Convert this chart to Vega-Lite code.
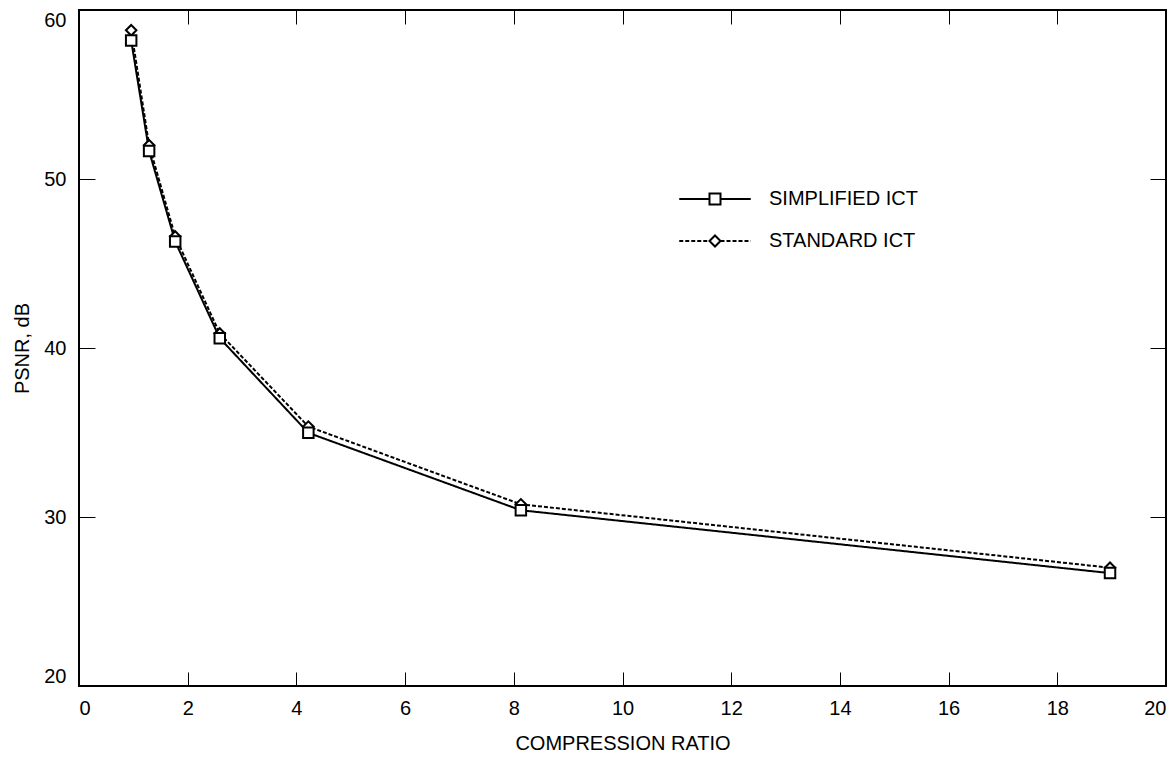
{
  "$schema": "https://vega.github.io/schema/vega-lite/v6.json",
  "width": 1087,
  "height": 676,
  "autosize": {"type": "none"},
  "padding": {"left": 79, "top": 10, "right": 9, "bottom": 72},
  "background": "white",
  "data": {
    "values": [
      {"series": "STANDARD ICT", "ratio": 0.96, "psnr": 58.8},
      {"series": "STANDARD ICT", "ratio": 1.29, "psnr": 52.0},
      {"series": "STANDARD ICT", "ratio": 1.77, "psnr": 46.6},
      {"series": "STANDARD ICT", "ratio": 2.59, "psnr": 40.86},
      {"series": "STANDARD ICT", "ratio": 4.22, "psnr": 35.35},
      {"series": "STANDARD ICT", "ratio": 8.13, "psnr": 30.75},
      {"series": "STANDARD ICT", "ratio": 18.97, "psnr": 27.0},
      {"series": "SIMPLIFIED ICT", "ratio": 0.96, "psnr": 58.2},
      {"series": "SIMPLIFIED ICT", "ratio": 1.29, "psnr": 51.65},
      {"series": "SIMPLIFIED ICT", "ratio": 1.77, "psnr": 46.3},
      {"series": "SIMPLIFIED ICT", "ratio": 2.59, "psnr": 40.58},
      {"series": "SIMPLIFIED ICT", "ratio": 4.22, "psnr": 34.98},
      {"series": "SIMPLIFIED ICT", "ratio": 8.13, "psnr": 30.4},
      {"series": "SIMPLIFIED ICT", "ratio": 18.97, "psnr": 26.68}
    ]
  },
  "layer": [
    {
      "mark": {"type": "line", "color": "black", "strokeWidth": 2},
      "encoding": {
        "x": {
          "field": "ratio", "type": "quantitative",
          "scale": {"domain": [0, 20], "nice": false, "zero": false},
          "axis": {
            "orient": "bottom",
            "values": [0, 2, 4, 6, 8, 10, 12, 14, 16, 18, 20],
            "title": "COMPRESSION RATIO",
            "tickSize": -14,
            "labelPadding": 26,
            "labelFlush": true,
            "titleY": 63,
            "titleBaseline": "alphabetic"
          }
        },
        "y": {
          "field": "psnr", "type": "quantitative",
          "scale": {"domain": [20, 60], "nice": false, "zero": false},
          "axis": {
            "orient": "left",
            "values": [20, 30, 40, 50, 60],
            "title": "PSNR, dB",
            "tickSize": -16,
            "labelPadding": 29,
            "labelFlush": true,
            "titleAngle": 270,
            "titleX": -51,
            "titleBaseline": "alphabetic"
          }
        },
        "strokeDash": {
          "field": "series", "type": "nominal",
          "scale": {"domain": ["SIMPLIFIED ICT", "STANDARD ICT"], "range": [[1, 0], [4, 2]]},
          "legend": {
            "orient": "none",
            "legendX": 626,
            "legendY": 179,
            "title": null,
            "symbolType": "M-6.5,0H-1M1,0H6.5",
            "symbolSize": 121,
            "symbolStrokeWidth": 2,
            "symbolStrokeColor": "black",
            "labelOffset": 44,
            "rowPadding": 22
          }
        }
      }
    },
    {
      "mark": {"type": "point", "filled": true, "fill": "white", "stroke": "black", "strokeWidth": 2, "size": 110, "opacity": 1},
      "encoding": {
        "x": {
          "field": "ratio", "type": "quantitative",
          "axis": {
            "orient": "top",
            "values": [0, 2, 4, 6, 8, 10, 12, 14, 16, 18, 20],
            "labels": false,
            "title": null,
            "tickSize": -14
          }
        },
        "y": {
          "field": "psnr", "type": "quantitative",
          "axis": {
            "orient": "right",
            "values": [20, 30, 40, 50, 60],
            "labels": false,
            "title": null,
            "tickSize": -16
          }
        },
        "shape": {
          "field": "series", "type": "nominal",
          "scale": {"domain": ["STANDARD ICT", "SIMPLIFIED ICT"], "range": ["diamond", "square"]},
          "legend": {
            "orient": "none",
            "legendX": 626,
            "legendY": 179,
            "title": null,
            "values": ["SIMPLIFIED ICT", "STANDARD ICT"],
            "symbolSize": 121,
            "symbolStrokeWidth": 2,
            "labelOffset": 44,
            "labelOpacity": 0,
            "rowPadding": 22,
            "encode": {
              "symbols": {
                "update": {
                  "shape": {"signal": "datum.value === 'STANDARD ICT' ? 'M0,-1.6L0.8,0L0,1.6L-0.8,0Z' : 'square'"},
                  "fill": {"value": "white"},
                  "stroke": {"value": "black"},
                  "strokeWidth": {"value": 2},
                  "opacity": {"value": 1},
                  "fillOpacity": {"value": 1},
                  "strokeOpacity": {"value": 1}
                }
              }
            }
          }
        }
      }
    }
  ],
  "resolve": {"axis": {"x": "independent", "y": "independent"}},
  "config": {
    "font": "Liberation Sans",
    "view": {"stroke": "black", "strokeWidth": 2},
    "axis": {
      "grid": false,
      "domain": false,
      "tickColor": "black",
      "tickWidth": 1,
      "labelFont": "Liberation Sans",
      "labelFontSize": 20,
      "labelColor": "black",
      "titleFont": "Liberation Sans",
      "titleFontSize": 20,
      "titleFontWeight": "normal",
      "titleColor": "black"
    },
    "legend": {
      "labelFont": "Liberation Sans",
      "labelFontSize": 20,
      "labelColor": "black",
      "labelLimit": 400,
      "padding": 0
    }
  }
}
